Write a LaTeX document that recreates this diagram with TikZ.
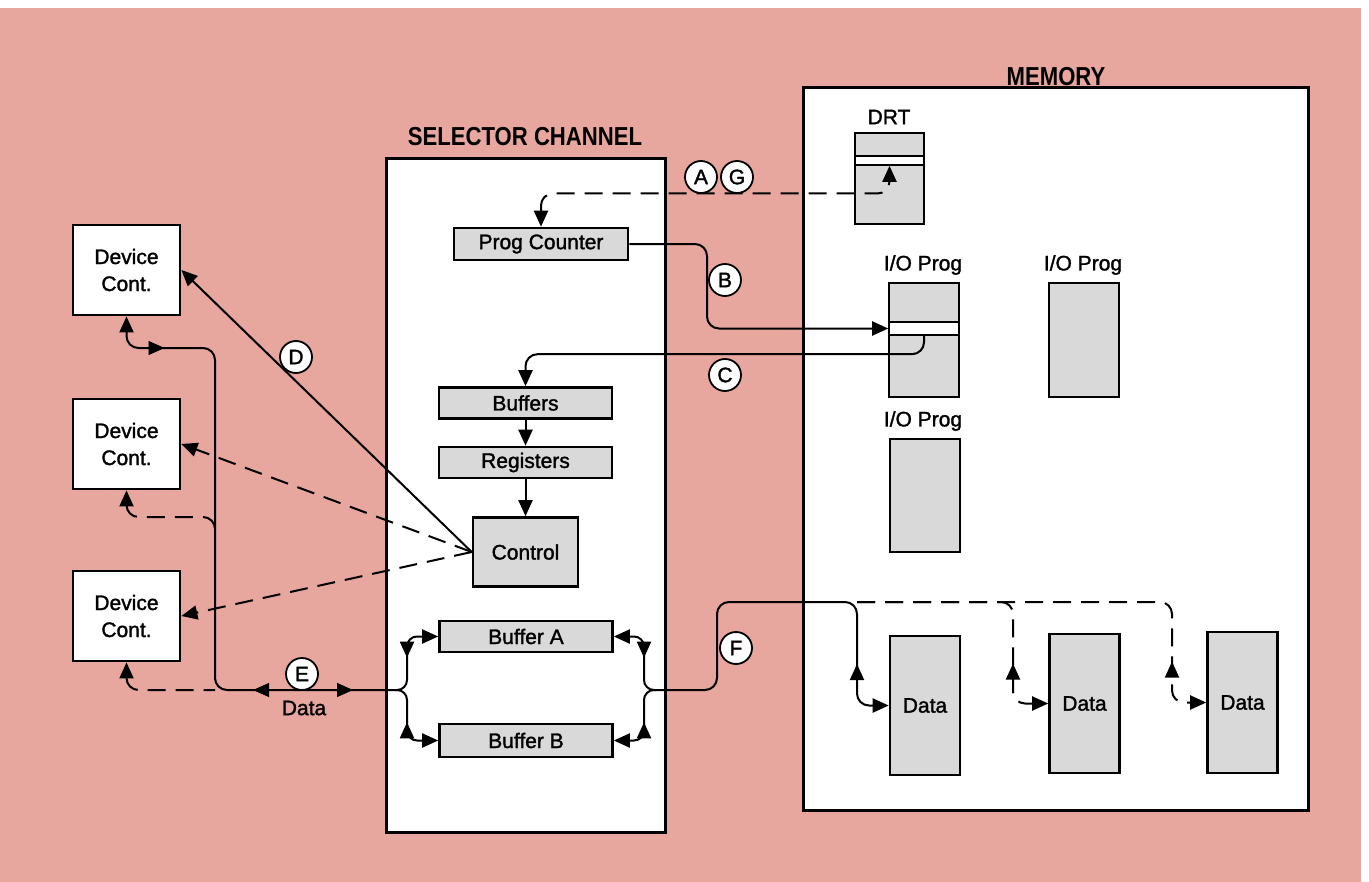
\documentclass[tikz,border=0pt]{standalone}
\usepackage{fontspec}
\setmainfont{Liberation Sans}
\newfontfamily\labelfont[BoldFont=Liberation Sans,BoldFeatures={FakeBold=1.5}]{Liberation Sans}
\newfontfamily\headfont[FakeStretch=0.85]{Liberation Sans}
\usepackage{tikz}
\usetikzlibrary{arrows.meta,calc,decorations.markings}
\definecolor{pinkbg}{HTML}{E7A69E}
\definecolor{boxgrey}{HTML}{D9D9D9}

\begin{document}
\begin{tikzpicture}[x=0.5pt,y=-0.5pt,>={Triangle[length=8pt,width=7pt]},
    every node/.style={font=\labelfont\bfseries\fontsize{10.5}{13.5}\selectfont,align=center,inner sep=0pt},
    frame/.style={draw,line width=1.5pt,fill=white},
    dev/.style={draw,line width=1.4pt,fill=white,minimum width=53.5pt,minimum height=45pt},
    reg/.style={draw,line width=1.3pt,fill=boxgrey,minimum width=86.5pt,minimum height=15.5pt},
    col/.style={draw,line width=1.3pt,fill=boxgrey,minimum width=35pt,minimum height=#1},
    slot/.style={draw,line width=0.8pt,fill=white,minimum width=35pt,minimum height=#1},
    tag/.style={draw,circle,line width=0.9pt,fill=white,minimum size=16pt,font=\labelfont\bfseries\fontsize{10.5}{11}\selectfont},
    head/.style={font=\headfont\bfseries\fontsize{13}{15}\selectfont},
    sline/.style={line width=1pt},
    dline/.style={line width=1pt,dash pattern=on 9pt off 5pt},
    tipat/.style={postaction={decorate,decoration={markings,mark=at position #1 with {\arrow{>}}}}},
    tipback/.style={postaction={decorate,decoration={markings,mark=at position #1 with {\arrowreversed{>}}}}},
  ]
  \useasboundingbox (0,0) rectangle (1369,882);
  \fill[pinkbg] (0,8) rectangle (1361,882);
  \node[frame,minimum width=139.5pt,minimum height=336.5pt] (sel) at (525.5,495.5) {};
  \node[frame,minimum width=252.5pt,minimum height=361pt] (mem) at (1055.5,449) {};
  \node[head] (seltitle) at (525,137) {SELECTOR CHANNEL};
  \node[head] (memtitle) at (1056,77) {MEMORY};

  \node[reg,minimum width=87pt,minimum height=16pt] (pc) at (541,244) {Prog Counter};
  \node[reg] (buffers) at (525.5,403) {Buffers};
  \node[reg] (registers) at (525.5,462.5) {Registers};
  \node[reg,minimum width=52.5pt,minimum height=34.5pt] (control) at (525.5,552) {Control};
  \node[reg] (bufa) at (526,636.5) {Buffer A};
  \node[reg,minimum height=16.5pt] (bufb) at (526,740.5) {Buffer B};

  \node[dev] (dev1) at (126.5,270) {Device\\Cont.};
  \node[dev] (dev2) at (126.5,444) {Device\\Cont.};
  \node[dev] (dev3) at (126.5,616) {Device\\Cont.};

  \node (drtlbl) at (889,117) {DRT};
  \node[col=45.5pt,minimum width=34.5pt] (drt) at (889.5,178.5) {};
  \node[slot=4.5pt,minimum width=34.5pt] (drtslot) at (889.5,160.5) {};
  \node (io1lbl) at (923,265) {I/O Prog};
  \node[col=57pt] (io1) at (924,340) {};
  \node[slot=6.5pt] (ioslot) at (924,328.5) {};
  \node (io2lbl) at (1083,265) {I/O Prog};
  \node[col=57pt] (io2) at (1084,340) {};
  \node (io3lbl) at (923,421) {I/O Prog};
  \node[col=56.5pt] (io3) at (925,495.5) {};
  \node[col=69.5pt] (data1) at (925,705.5) {Data};
  \node[col=69.5pt] (data2) at (1084.5,703.5) {Data};
  \node[col=70.5pt] (data3) at (1242.5,702.5) {Data};

  \coordinate (agbend) at (889.5,193.5);
  \coordinate (bbend) at (707,328.5);
  \coordinate (dtap) at (215,348);
  \coordinate (tap2) at (215,517);
  \coordinate (lj) at (215,690);
  \coordinate (ls) at (395,690);
  \coordinate (rs) at (656,690);
  \coordinate (ftop) at (717,602);
  \coordinate (d1top) at (857,602);
  \coordinate (d2bend) at (1013,703.5);
  \coordinate (d3bend) at (1172,702.5);

  \draw[dline,rounded corners=6pt,<->] (pc.north) |- (agbend) -- (drtslot.south);
  \draw[sline,rounded corners=6pt,->] (pc.east) -| (bbend) -- (ioslot.west);
  \draw[sline,rounded corners=6pt,->] (ioslot.south) |- ($(buffers.north)+(0,-32)$) -- (buffers.north);
  \draw[sline,->] (buffers) -- (registers); \draw[sline,->] (registers) -- (control);
  \draw[sline,->] (control.west) -- (dev1.east);
  \draw[dline,->] (control.west) -- (dev2.east);
  \draw[dline,->] (control.west) -- (dev3.east);
  \draw[sline,rounded corners=6pt,<-] (dev1.south) |- (dtap) |- (ls);
  \path[tipat=19pt] (dev1.south |- dtap) -- (dtap);
  \path[tipback=19pt,tipat=69pt] (lj) -- (ls);
  \draw[dline,rounded corners=6pt,<-] (dev2.south) |- (tap2) -- ++(0,16);
  \draw[dline,rounded corners=6pt,<-] (dev3.south) |- (lj);
  \draw[sline,rounded corners=5pt,->,tipback=20pt] (ls) -- ++(12,0) |- (bufa.west);
  \draw[sline,rounded corners=5pt,->,tipback=20pt] (ls) -- ++(12,0) |- (bufb.west);
  \draw[sline,rounded corners=5pt,->,tipback=20pt] (rs) -- ++(-12,0) |- (bufa.east);
  \draw[sline,rounded corners=5pt,->,tipback=20pt] (rs) -- ++(-12,0) |- (bufb.east);
  \draw[sline,rounded corners=6pt,->,tipback=-34pt] (rs) -| (ftop) -- (d1top) |- (data1.west);
  \draw[dline,rounded corners=6pt,->,tipback=-35pt] (d1top) -| (d2bend) -- (data2.west);
  \draw[dline,rounded corners=6pt,->,tipback=-35pt] (d1top) -| (d3bend) -- (data3.west);

  \node[tag] (tagA) at (701,177) {A};
  \node[tag] (tagG) at (737,177) {G};
  \node[tag] (tagB) at (725,280) {B};
  \node[tag] (tagC) at (725,375) {C};
  \node[tag] (tagD) at (296,357) {D};
  \node[tag] (tagE) at (302,674) {E};
  \node[tag] (tagF) at (736,648) {F};
  \node (datalbl) at (304,708) {Data};
\end{tikzpicture}
\end{document}
